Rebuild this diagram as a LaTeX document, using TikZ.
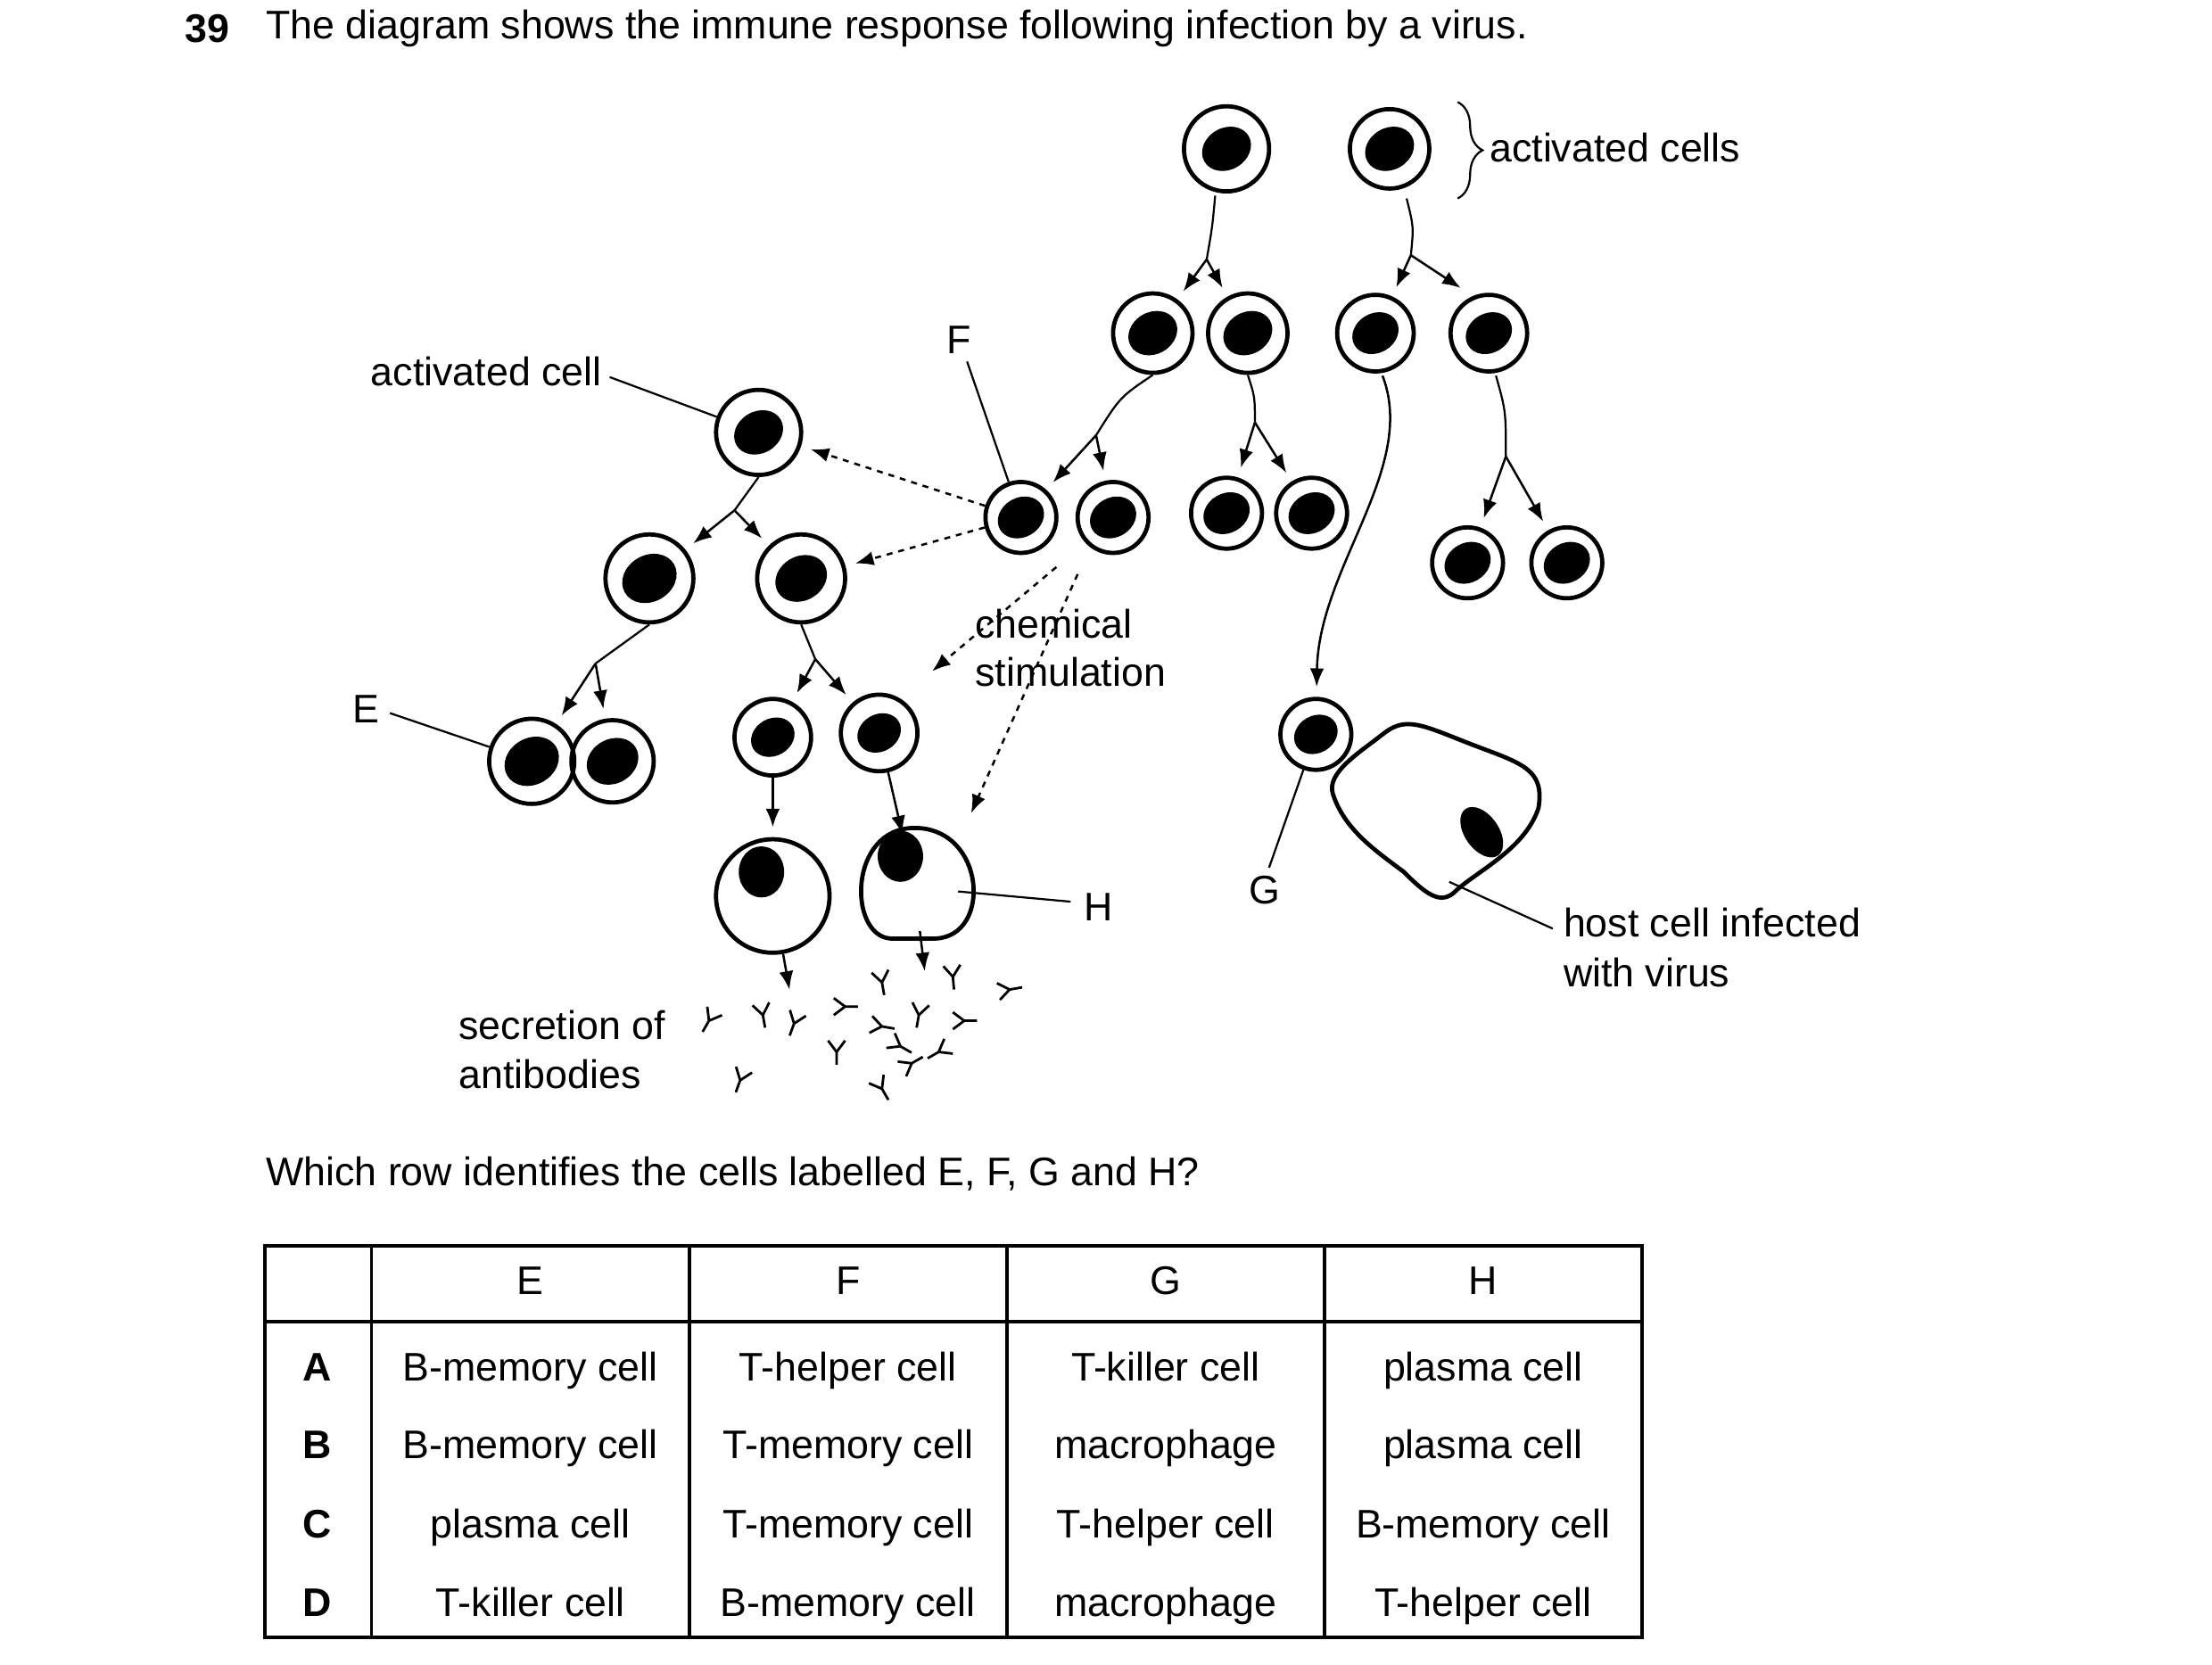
\documentclass[tikz,border=0pt]{standalone}
\usepackage{fontspec}
\setmainfont{Liberation Sans}
\usetikzlibrary{arrows.meta,decorations.pathreplacing}
\begin{document}
\begin{tikzpicture}[x=0.01cm,y=-0.01cm,font=\fontsize{8}{10}\selectfont,
  cellc/.style={circle,draw,line width=0.85pt,inner sep=0pt},
  arr/.style={-{Latex[length=1.3mm,width=1mm]},line width=0.45pt,shorten >=2pt},
  thin/.style={line width=0.4pt},
  dot/.style={arr,dash pattern=on 1.2pt off 1.2pt},
  lbl/.style={inner sep=0pt,anchor=west},
  tc/.style={text height=6pt,text depth=2pt,inner sep=0pt}]
\useasboundingbox (0,0) rectangle (1560,1174);
\newcommand\cellnode[5]{\node[cellc,minimum size=#4cm] (#1) at (#2,#3) {};
  \fill[rotate around={30:(#1.center)}] (#1.center) ellipse[x radius=#5cm,y radius=0.82*#5cm];}
\newcommand\ab[3]{\begin{scope}[shift={(#1,#2)},rotate=#3,line width=0.5pt]
  \draw (0,9)--(0,0)--(-6,-8) (0,0)--(6,-8);\end{scope}}
% title
\node[lbl] at (130,20) {\textbf{39}};
\node[lbl] at (187,20) {The diagram shows the immune response following infection by a virus.};
% cells
\cellnode{t1}{865}{105}{0.6}{0.18}
\cellnode{t2}{980}{105}{0.56}{0.18}
\cellnode{r2a}{813}{235}{0.56}{0.18}
\cellnode{r2b}{880}{235}{0.56}{0.18}
\cellnode{r2c}{970}{235}{0.54}{0.17}
\cellnode{r2d}{1050}{235}{0.54}{0.17}
\cellnode{act}{535}{305}{0.6}{0.18}
\cellnode{f}{720}{365}{0.5}{0.17}
\cellnode{r3b}{785}{365}{0.5}{0.17}
\cellnode{r3c}{865}{362}{0.5}{0.17}
\cellnode{r3d}{925}{362}{0.5}{0.17}
\cellnode{r3e}{1035}{397}{0.5}{0.17}
\cellnode{r3f}{1105}{397}{0.5}{0.17}
\cellnode{m1}{458}{408}{0.62}{0.2}
\cellnode{m2}{565}{408}{0.62}{0.19}
\cellnode{e1}{375}{537}{0.6}{0.2}
\cellnode{e2}{432}{537}{0.58}{0.19}
\cellnode{p1}{545}{520}{0.54}{0.16}
\cellnode{p2}{620}{517}{0.54}{0.16}
\cellnode{g}{928}{518}{0.5}{0.16}
\node[circle,draw,line width=0.85pt,minimum size=0.8cm,inner sep=0pt] (h1) at (545,632) {};
\fill (537,615) ellipse[x radius=0.16cm,y radius=0.18cm];
\draw[line width=0.85pt] (645,584) .. controls (695,584) and (700,660) .. (660,662)
  -- (628,662) .. controls (598,660) and (598,584) .. (645,584);
\node[inner sep=0pt,minimum size=0.6cm] (h) at (645,626) {};
\fill (635,604) ellipse[x radius=0.16cm,y radius=0.18cm];
% host cell
\draw[line width=0.85pt] (940,560) .. controls (935,545) and (960,530) .. (975,518)
  .. controls (990,506) and (1000,510) .. (1030,522)
  .. controls (1070,538) and (1090,540) .. (1085,570)
  .. controls (1075,600) and (1040,615) .. (1025,630)
  .. controls (1015,638) and (1005,630) .. (990,615)
  .. controls (970,600) and (948,585) .. (940,560) -- cycle;
\fill[rotate around={35:(1045,587)}] (1045,587) ellipse[x radius=0.12cm,y radius=0.2cm];
\coordinate (hostpt) at (1022,622);
% branches
\coordinate (k1) at (851,183);
\draw[thin] (857,138) .. controls (855,160) .. (k1);
\draw[arr] (k1) -- (r2a); \draw[arr] (k1) -- (r2b);
\coordinate (k2) at (995,180);
\draw[thin] (992,140) .. controls (997,160) .. (k2);
\draw[arr] (k2) -- (r2c); \draw[arr] (k2) -- (1036,207);
\coordinate (k3) at (773,307);
\draw[thin] (r2a.south) .. controls (790,280) .. (k3);
\draw[arr] (k3) -- (f); \draw[arr] (k3) -- (r3b);
\coordinate (k4) at (885,298);
\draw[thin] (r2b.south) .. controls (885,280) .. (k4);
\draw[arr] (k4) -- (r3c); \draw[arr] (k4) -- (r3d);
\draw[arr] (975,265) .. controls (1000,330) and (930,400) .. (g);
\coordinate (k5) at (1062,322);
\draw[thin] (1055,265) .. controls (1062,290) .. (k5);
\draw[arr] (k5) -- (r3e); \draw[arr] (k5) -- (r3f);
\coordinate (k6) at (518,360);
\draw[thin] (act.south) -- (k6);
\draw[arr] (k6) -- (m1); \draw[arr] (k6) -- (m2);
\coordinate (k7) at (420,468);
\draw[thin] (m1.south) -- (k7);
\draw[arr] (k7) -- (e1); \draw[arr] (k7) -- (e2);
\coordinate (k8) at (575,465);
\draw[thin] (m2.south) -- (k8);
\draw[arr] (k8) -- (p1); \draw[arr] (k8) -- (p2);
\draw[arr] (p1) -- (h1);
\draw[arr] (p2) -- (h);
\coordinate (s1) at (558,705); \coordinate (s2) at (653,692);
\draw[arr] (h1) -- (s1);
\draw[arr] (h) -- (s2);
% dotted
\draw[dot] (f) -- (act);
\draw[dot] (f) -- (m2);
\coordinate (c1) at (745,400); \coordinate (c2) at (760,405);
\coordinate (d1) at (652,478); \coordinate (d2) at (682,580);
\draw[dot] (c1) -- (d1);
\draw[dot] (c2) -- (d2);
% antibodies
\ab{500}{720}{-30}\ab{538}{716}{10}\ab{560}{722}{-20}\ab{596}{710}{90}\ab{622}{693}{10}
\ab{622}{724}{80}\ab{648}{716}{-10}\ab{672}{689}{5}\ab{680}{720}{90}\ab{712}{698}{100}
\ab{522}{762}{-20}\ab{590}{742}{0}\ab{622}{768}{30}\ab{643}{750}{120}\ab{662}{742}{-60}
\ab{635}{738}{60}
% labels
\node[lbl,anchor=east] (la) at (425,262) {activated cell};
\draw[thin] (430,266) -- (act);
\node[lbl] (lf) at (667,240) {F};
\draw[thin] (682,255) -- (f);
\node[lbl,anchor=east] (le) at (268,500) {E};
\draw[thin] (275,503) -- (e1);
\node[lbl] (lh) at (764,640) {H};
\draw[thin] (h) -- (755,636);
\node[lbl] (lg) at (880,628) {G};
\draw[thin] (895,612) -- (g);
\node[lbl] (lhost) at (1102,651) {host cell infected};
\node[lbl] at (1102,686) {with virus};
\draw[thin] (hostpt) -- (1095,655);
\draw[thin,decorate,decoration={brace,amplitude=5pt}] (1028,72) -- (1028,140);
\node[lbl] at (1050,104) {activated cells};
\node[lbl] at (687,440) {chemical};
\node[lbl] at (687,474) {stimulation};
\node[lbl] at (323,723) {secretion of};
\node[lbl] at (323,758) {antibodies};
\node[lbl] at (187,828) {Which row identifies the cells labelled E, F, G and H?};
% table
\draw[line width=0.7pt] (187,879) rectangle (1158,1155);
\draw[line width=0.7pt] (187,932) -- (1158,932);
\foreach \x in {262,486,710,934} \draw[line width=0.7pt] (\x,879) -- (\x,1155);
\foreach \t/\x in {E/374,F/598,G/822,H/1046} \node[tc] at (\x,906) {\t};
\foreach \r/\y/\a/\b/\c/\d in {A/967/B-memory cell/T-helper cell/T-killer cell/plasma cell,
  B/1022/B-memory cell/T-memory cell/macrophage/plasma cell,
  C/1078/plasma cell/T-memory cell/T-helper cell/B-memory cell,
  D/1133/T-killer cell/B-memory cell/macrophage/T-helper cell}{
  \node[tc] at (224,\y) {\textbf{\r}};
  \node[tc] at (374,\y) {\a}; \node[tc] at (598,\y) {\b}; \node[tc] at (822,\y) {\c}; \node[tc] at (1046,\y) {\d};}
\end{tikzpicture}
\end{document}
